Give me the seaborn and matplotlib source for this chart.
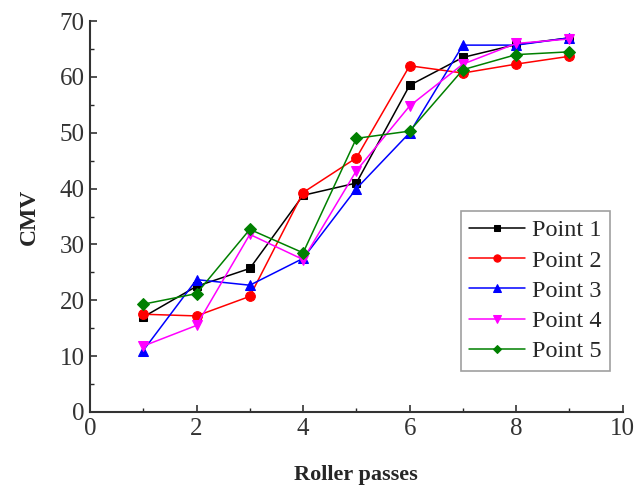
import matplotlib
matplotlib.use("Agg")
import matplotlib.pyplot as plt
import seaborn as sns
import pandas as pd
from matplotlib.ticker import MultipleLocator

passes = [1, 2, 3, 4, 5, 6, 7, 8, 9]
point1 = [17.0, 22.5, 25.7, 38.8, 41.0, 58.5, 63.5, 65.8, 67.0]
point2 = [17.5, 17.2, 20.7, 39.3, 45.5, 62.0, 60.7, 62.3, 63.7]
point3 = [11.0, 23.7, 22.7, 27.5, 40.0, 50.0, 65.7, 65.7, 67.0]
point4 = [11.8, 15.5, 31.8, 27.3, 43.2, 54.8, 62.3, 66.0, 66.8]
point5 = [19.3, 21.2, 32.7, 28.5, 49.0, 50.3, 61.3, 64.0, 64.5]
series_names = ["Point 1", "Point 2", "Point 3", "Point 4", "Point 5"]

rows = []
for name, vals in zip(series_names, [point1, point2, point3, point4, point5]):
    for x, y in zip(passes, vals):
        rows.append({"Roller passes": x, "CMV": y, "series": name})
df = pd.DataFrame(rows)

sns.set_style("ticks")
plt.rcParams["font.family"] = ["Liberation Serif", "DejaVu Serif"]
plt.rcParams["xtick.direction"] = "in"
plt.rcParams["ytick.direction"] = "in"

fig = plt.figure(figsize=(6.35, 4.91), dpi=100)
ax = fig.add_axes([0.1417, 0.161, 0.839, 0.796])

palette = {"Point 1": "#000000", "Point 2": "#ff0000", "Point 3": "#0000ff",
           "Point 4": "#ff00ff", "Point 5": "#008000"}
markers = {"Point 1": "s", "Point 2": "o", "Point 3": "^", "Point 4": "v", "Point 5": "D"}
sizes_m = {"Point 1": 6, "Point 2": 7, "Point 3": 7.5, "Point 4": 7.5, "Point 5": 6}

for name in series_names:
    sub = df[df["series"] == name]
    sns.lineplot(data=sub, x="Roller passes", y="CMV", ax=ax, color=palette[name],
                 marker=markers[name], markersize=sizes_m[name], markeredgecolor=palette[name],
                 linewidth=1.1, label=name)

ax.set_xlim(0, 10)
ax.set_ylim(0, 70)
ax.xaxis.set_major_locator(MultipleLocator(2))
ax.xaxis.set_minor_locator(MultipleLocator(1))
ax.yaxis.set_major_locator(MultipleLocator(10))
ax.yaxis.set_minor_locator(MultipleLocator(5))
ax.tick_params(which="major", length=5, width=1.2, labelsize=18, colors="#333333", pad=4)
ax.tick_params(which="minor", length=3, width=1.0)
for s in ["top", "right"]:
    ax.spines[s].set_visible(False)
for s in ["left", "bottom"]:
    ax.spines[s].set_linewidth(1.5)
    ax.spines[s].set_color("#333333")

ax.set_xlabel("Roller passes", fontsize=16, fontweight="bold", labelpad=18)
ax.set_ylabel("CMV", fontsize=17, fontweight="bold", labelpad=14)

leg = ax.legend(loc="lower right", bbox_to_anchor=(0.977, 0.105), borderaxespad=0,
                fontsize=17.5, frameon=True, fancybox=False, edgecolor="#888888",
                handlelength=2.3, borderpad=0.35, labelspacing=0.34, handletextpad=0.3,
                markerscale=0.75)
leg.get_frame().set_linewidth(1.2)

fig.savefig("out.png", dpi=100)
